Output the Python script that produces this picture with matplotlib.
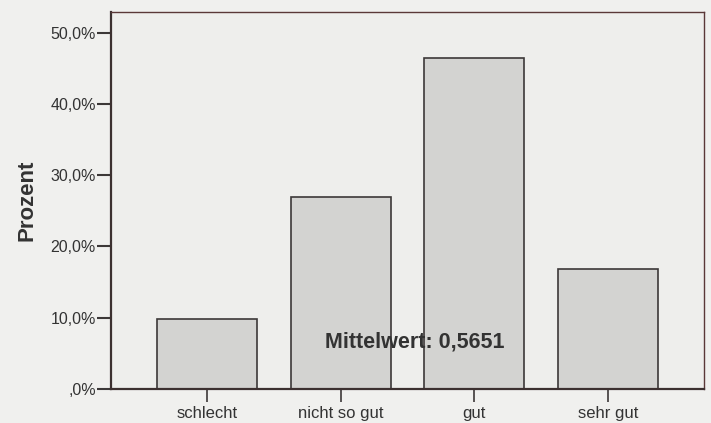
import matplotlib
matplotlib.use("Agg")
import matplotlib.pyplot as plt
from matplotlib.ticker import FuncFormatter

# Data
categories = ['schlecht', 'nicht so gut', 'gut', 'sehr gut']
percent = [9.8, 26.9, 46.5, 16.9]
y_ticks = [0, 10, 20, 30, 40, 50]
mean_label = 'Mittelwert: 0,5651'

plt.rcParams['font.family'] = ['Liberation Sans', 'DejaVu Sans']

fig = plt.figure(figsize=(7.11, 4.23), dpi=100, facecolor='#f0f0ee')
ax = fig.add_axes([0.1561, 0.0804, 0.8339, 0.8912])
ax.set_facecolor('#eeeeec')

x = range(len(categories))
ax.bar(x, percent, width=0.75, color='#d3d3d1', edgecolor='#3c3838', linewidth=1.2, zorder=2)

ax.set_xlim(-0.72, 3.72)
ax.set_ylim(0, 52.9)

ax.set_xticks(list(x))
ax.set_xticklabels(categories, fontsize=12, color='#333333')
ax.set_yticks(y_ticks)


def pct_fmt(v, pos):
    if v == 0:
        return ',0%'
    return f'{v:.1f}'.replace('.', ',') + '%'


ax.yaxis.set_major_formatter(FuncFormatter(pct_fmt))
ax.tick_params(axis='y', length=10, width=1.5, color='#3c3838', labelsize=11.5,
               labelcolor='#333333', pad=1)
ax.tick_params(axis='x', length=9, width=1.2, color='#3c3838', pad=3)

for side in ['left', 'bottom']:
    ax.spines[side].set_color('#3c3030')
    ax.spines[side].set_linewidth(1.6)
for side in ['top', 'right']:
    ax.spines[side].set_color('#5a3838')
    ax.spines[side].set_linewidth(1.0)

ax.set_ylabel('Prozent', fontsize=16, fontweight='bold', color='#333333', labelpad=9)

ax.text(1.554, 6.6, mean_label, fontsize=15.5, fontweight='bold', color='#333333',
        ha='center', va='center', zorder=3)

fig.savefig('out.png', dpi=100, facecolor=fig.get_facecolor())
